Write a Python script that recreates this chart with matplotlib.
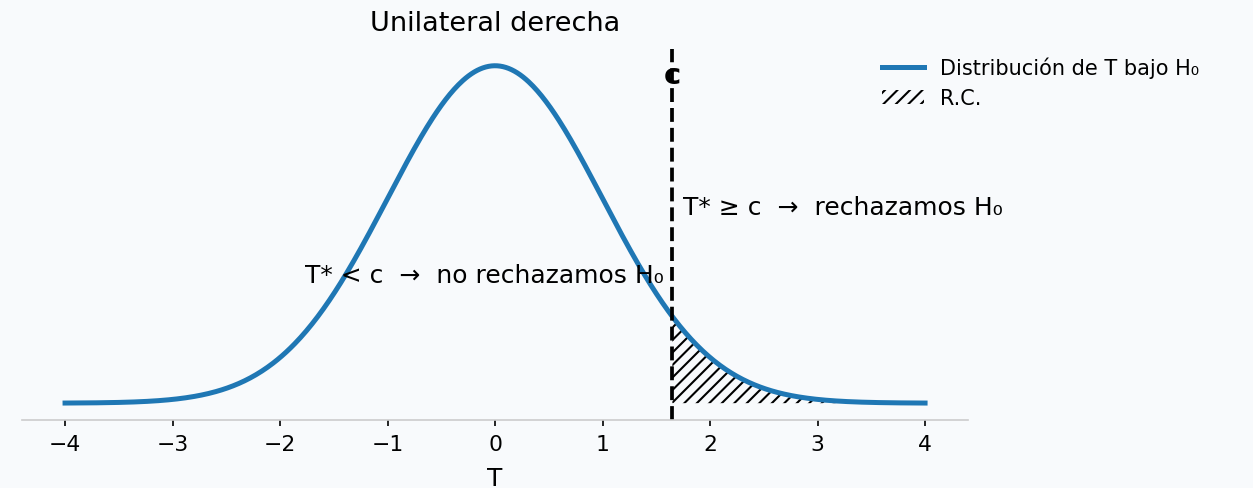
import numpy as np
import matplotlib.pyplot as plt
from matplotlib.lines import Line2D
from matplotlib.patches import Patch

# standard normal under H0, right-tailed test at alpha = 0.05
mu = 0.0
sigma = 1.0
c = 1.645
x_min, x_max = -4, 4
xticks = [-4, -3, -2, -1, 0, 1, 2, 3, 4]

title = "Unilateral derecha"
curve_label = "Distribución de T bajo H₀"
region_label = "R.C."
text_reject = "T* ≥ c  →  rechazamos H₀"
text_keep = "T* < c  →  no rechazamos H₀"

bg = "#f8fafc"
blue = "#1f77b4"

plt.rcParams["hatch.linewidth"] = 1.0

x = np.linspace(x_min, x_max, 600)
pdf = np.exp(-0.5 * ((x - mu) / sigma) ** 2) / (sigma * np.sqrt(2 * np.pi))

fig = plt.figure(figsize=(1253 / 150, 489 / 150), dpi=150, facecolor=bg)
ax = fig.add_axes([0.0176, 0.139, 0.755, 0.759], facecolor=bg)

ax.plot(x, pdf, color=blue, lw=2.4)
mask = x >= c
ax.fill_between(x[mask], 0, pdf[mask], facecolor="none", edgecolor="black",
                hatch="////", linewidth=0)
ax.axvline(c, color="black", ls="--", lw=1.8)

ax.text(c, 0.388, "c", ha="center", va="center", fontsize=14, fontweight="bold")
ax.text(c + 0.1, 0.232, text_reject, ha="left", va="center", fontsize=12)
ax.text(c - 0.08, 0.152, text_keep, ha="right", va="center", fontsize=12)

ax.set_title(title, fontsize=13, pad=9)
ax.set_xlabel("T", fontsize=12, labelpad=6)
ax.set_xticks(xticks)
ax.tick_params(axis="x", labelsize=10.5, length=3, color="black")
ax.set_yticks([])
for side in ["top", "right", "left"]:
    ax.spines[side].set_visible(False)
ax.spines["bottom"].set_color("#cccccc")

handles = [Line2D([], [], color=blue, lw=2.4),
           Patch(facecolor="none", edgecolor="black", hatch="////", linewidth=0)]
fig.legend(handles, [curve_label, region_label], loc="upper left",
           bbox_to_anchor=(0.689, 0.921), frameon=False, fontsize=10)

fig.savefig("out.png", dpi=150, facecolor=bg)
